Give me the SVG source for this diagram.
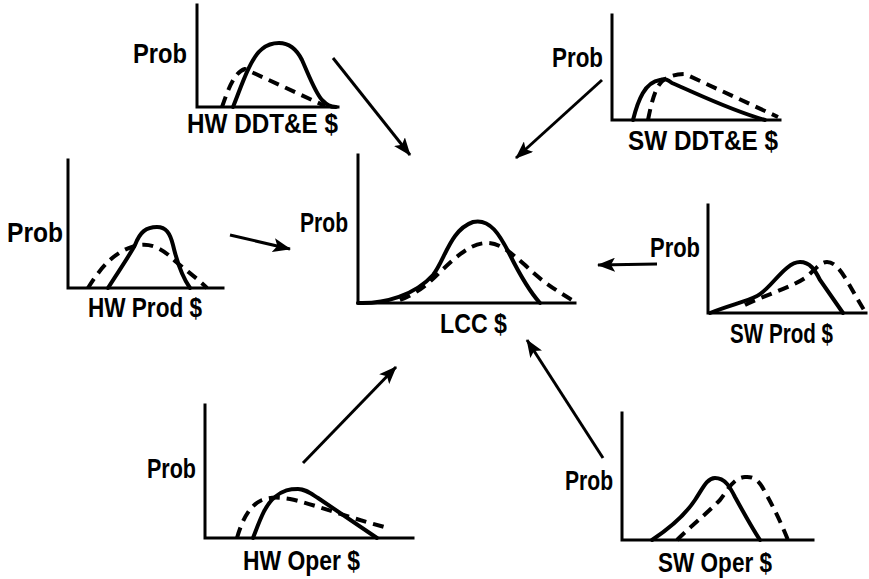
<svg xmlns="http://www.w3.org/2000/svg" width="869" height="579" viewBox="0 0 869 579">
<style>
.ax{fill:none;stroke:#000;stroke-width:3;stroke-linecap:square}
.s{fill:none;stroke:#000;stroke-width:4;stroke-linecap:round}
.d{fill:none;stroke:#000;stroke-width:4;stroke-dasharray:11,7}
.ar{fill:none;stroke:#000;stroke-width:3;marker-end:url(#ah)}
text{font-family:"Liberation Sans Narrow","Liberation Sans",Arial,sans-serif;font-weight:bold;font-size:28px;fill:#000}
</style>
<defs>
<marker id="ah" markerUnits="userSpaceOnUse" markerWidth="20" markerHeight="14" refX="17" refY="7" orient="auto">
<path d="M0,0 L18,7 L0,14 L4,7 z" fill="#000"/>
</marker>
</defs>
<rect width="869" height="579" fill="#fff"/>
<g id="connectors">
<line class="ar" x1="333" y1="58" x2="410" y2="155"/>
<line class="ar" x1="602" y1="80" x2="516" y2="158"/>
<line class="ar" x1="230" y1="235" x2="290" y2="249"/>
<line class="ar" x1="303" y1="463" x2="396" y2="367"/>
<line class="ar" x1="603" y1="458" x2="527" y2="340"/>
<line class="ar" x1="657" y1="264" x2="598" y2="265"/>
</g>
<g id="hw-ddte">
<path class="ax" d="M197,5 V107 H338"/>
<path class="s" d="M233,107 C240,90 250,58 262,49 C268,44 273,43 279,43 C288,43 296,48 302,60 C310,78 315,92 322,100 C327,105 330,107 336,107"/>
<path class="d" d="M222,107 C228,90 234,72 245,69 L325,106"/>
<text x="133" y="63" textLength="54" lengthAdjust="spacingAndGlyphs">Prob</text>
<text x="187" y="133" textLength="151" lengthAdjust="spacingAndGlyphs">HW DDT&amp;E $</text>
</g>
<g id="sw-ddte">
<path class="ax" d="M612,15 V120 H780"/>
<path class="s" d="M633,120 C638,100 645,82 660,80 C665,78 668,80 672,83 C700,95 730,110 765,120"/>
<path class="d" d="M648,120 C652,100 656,84 665,79 C672,75 678,74 685,74 L778,117"/>
<text x="552" y="67" textLength="51" lengthAdjust="spacingAndGlyphs">Prob</text>
<text x="628" y="150" textLength="150" lengthAdjust="spacingAndGlyphs">SW DDT&amp;E $</text>
</g>
<g id="hw-prod">
<path class="ax" d="M68,160 V288 H223"/>
<path class="s" d="M108,288 C118,272 128,258 135,245 C140,232 146,227 157,227 C166,227 170,233 173,245 C177,262 183,278 190,288"/>
<path class="d" d="M88,288 C98,272 112,252 135,246 C150,242 162,248 175,261 C188,272 198,279 207,288"/>
<text x="7" y="242" textLength="56" lengthAdjust="spacingAndGlyphs">Prob</text>
<text x="88" y="317" textLength="114" lengthAdjust="spacingAndGlyphs">HW Prod $</text>
</g>
<g id="lcc">
<path class="ax" d="M358,155 V303 H575"/>
<path class="s" d="M358,303 C385,304 415,295 433,275 C445,260 450,230 473,222 C490,218 500,235 510,255 C520,275 530,292 540,303"/>
<path class="d" d="M400,300 C420,292 430,282 440,272 C455,258 470,243 487,243 C500,243 510,252 525,265 C540,280 555,290 577,303"/>
<text x="300" y="232" textLength="48" lengthAdjust="spacingAndGlyphs">Prob</text>
<text x="440" y="333" textLength="67" lengthAdjust="spacingAndGlyphs">LCC $</text>
</g>
<g id="sw-prod">
<path class="ax" d="M708,205 V313 H866"/>
<path class="s" d="M710,313 C730,305 745,302 757,296 C770,290 785,262 800,262 C810,262 815,270 820,280 L843,313"/>
<path class="d" d="M745,305 C765,295 790,288 805,278 C815,270 820,262 827,262 C840,262 848,285 866,313"/>
<text x="650" y="257" textLength="50" lengthAdjust="spacingAndGlyphs">Prob</text>
<text x="730" y="343" textLength="103" lengthAdjust="spacingAndGlyphs">SW Prod $</text>
</g>
<g id="hw-oper">
<path class="ax" d="M205,405 V538 H413"/>
<path class="s" d="M253,538 C260,520 265,505 275,497 C283,490 290,489 298,489 C305,489 310,493 318,498 L377,538"/>
<path class="d" d="M237,538 C242,520 250,505 262,500 C270,497 278,497 290,499 C310,503 340,515 388,528"/>
<text x="147" y="478" textLength="49" lengthAdjust="spacingAndGlyphs">Prob</text>
<text x="243" y="570" textLength="117" lengthAdjust="spacingAndGlyphs">HW Oper $</text>
</g>
<g id="sw-oper">
<path class="ax" d="M622,413 V540 H813"/>
<path class="s" d="M652,540 C670,528 685,515 695,500 C703,488 707,478 715,478 C725,478 730,487 735,497 C745,515 752,528 760,540"/>
<path class="d" d="M677,540 C690,527 705,515 720,500 C728,490 733,478 745,477 C755,476 760,482 765,492 C775,510 782,525 788,540"/>
<text x="565" y="490" textLength="48" lengthAdjust="spacingAndGlyphs">Prob</text>
<text x="658" y="572" textLength="114" lengthAdjust="spacingAndGlyphs">SW Oper $</text>
</g>
</svg>
